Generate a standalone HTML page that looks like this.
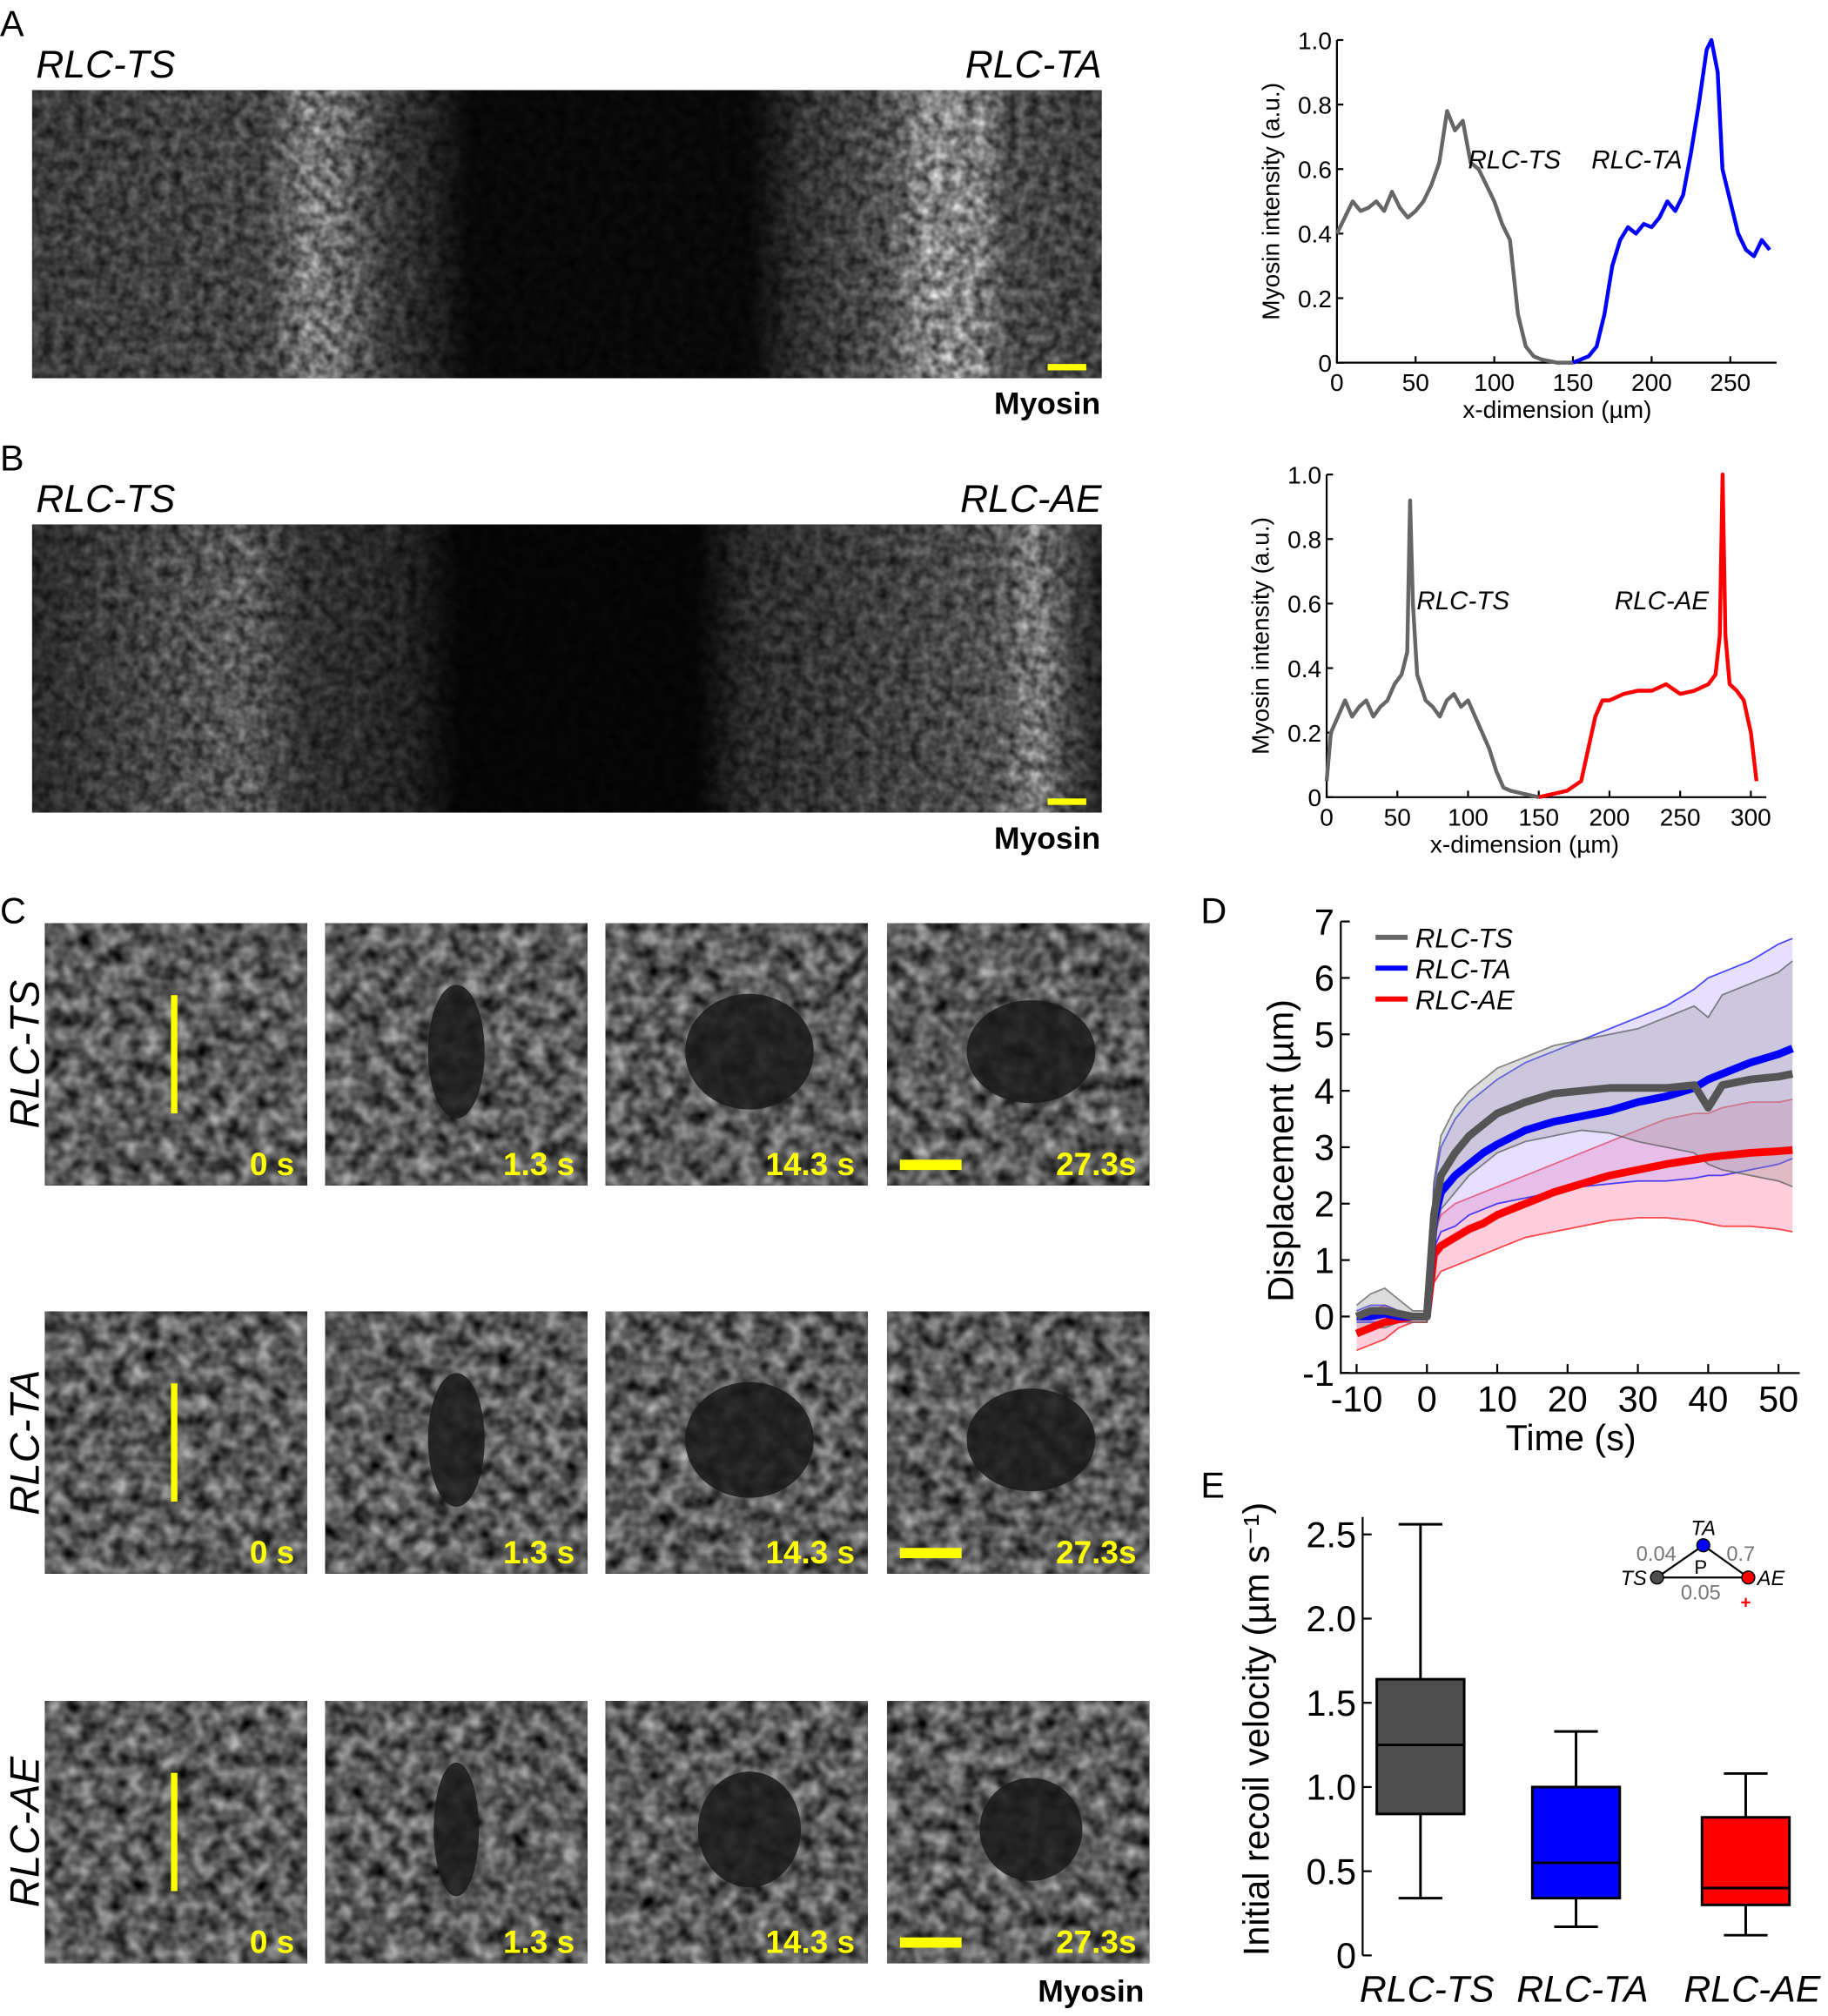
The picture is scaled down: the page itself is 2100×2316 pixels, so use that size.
<!DOCTYPE html>
<html><head><meta charset="utf-8"><style>
html,body{margin:0;padding:0;background:#fff;}
svg{display:block;font-family:"Liberation Sans",Arial,sans-serif;}
</style></head><body>
<svg id="fig" width="2100" height="2316" viewBox="0 0 1422 1568" xmlns="http://www.w3.org/2000/svg">
<defs>
<linearGradient id="gA" x1="0" x2="1" y1="0" y2="0">
<stop offset="0" stop-color="#3a3a3a"/><stop offset="0.22" stop-color="#454545"/><stop offset="0.26" stop-color="#7a7a7a"/><stop offset="0.29" stop-color="#666"/><stop offset="0.33" stop-color="#3a3a3a"/><stop offset="0.38" stop-color="#1e1e1e"/><stop offset="0.41" stop-color="#080808"/><stop offset="0.67" stop-color="#080808"/><stop offset="0.72" stop-color="#303030"/><stop offset="0.8" stop-color="#505050"/><stop offset="0.84" stop-color="#8a8a8a"/><stop offset="0.89" stop-color="#7a7a7a"/><stop offset="0.91" stop-color="#4a4a4a"/><stop offset="1" stop-color="#3e3e3e"/>
</linearGradient>
<linearGradient id="gB" x1="0" x2="1" y1="0" y2="0">
<stop offset="0" stop-color="#2a2a2a"/><stop offset="0.16" stop-color="#505050"/><stop offset="0.2" stop-color="#5a5a5a"/><stop offset="0.25" stop-color="#333"/><stop offset="0.35" stop-color="#222"/><stop offset="0.4" stop-color="#050505"/><stop offset="0.62" stop-color="#050505"/><stop offset="0.67" stop-color="#2a2a2a"/><stop offset="0.9" stop-color="#505050"/><stop offset="0.94" stop-color="#7a7a7a"/><stop offset="0.97" stop-color="#444"/><stop offset="1" stop-color="#222"/>
</linearGradient>
<filter id="noise" x="0" y="0" width="1" height="1" color-interpolation-filters="sRGB">
<feTurbulence type="fractalNoise" baseFrequency="0.12" numOctaves="2" seed="3" result="t"/>
<feColorMatrix in="t" type="matrix" values="1 0 0 0 0  1 0 0 0 0  1 0 0 0 0  0 0 0 0 1" result="g"/>
<feComposite in="SourceGraphic" in2="g" operator="arithmetic" k1="1.8" k2="0.1" k3="0" k4="0"/>
</filter>
<filter id="noiseC" x="0" y="0" width="1" height="1" color-interpolation-filters="sRGB">
<feTurbulence type="fractalNoise" baseFrequency="0.08" numOctaves="2" seed="7" result="t"/>
<feColorMatrix in="t" type="matrix" values="1 0 0 0 0  1 0 0 0 0  1 0 0 0 0  0 0 0 0 1" result="g"/>
<feComposite in="SourceGraphic" in2="g" operator="arithmetic" k1="2.6" k2="-0.3" k3="0" k4="0"/>
</filter>
</defs>
<g id="root"></g>
</svg>
<script>
// ---------- data ----------
var profAx_gray = [0,5,10,15,20,25,30,35,40,45,50,55,60,65,70,75,80,85,90,95,100,105,110,115,120,125,130,140,150];
var profAy_gray = [0.4,0.45,0.5,0.47,0.48,0.5,0.47,0.53,0.48,0.45,0.47,0.5,0.55,0.62,0.78,0.72,0.75,0.62,0.6,0.55,0.5,0.43,0.38,0.15,0.05,0.02,0.01,0,0];
var profAx_blue = [150,155,160,165,170,175,180,185,190,195,200,205,210,215,220,225,230,235,238,242,245,250,255,260,265,270,275];
var profAy_blue = [0,0.01,0.02,0.05,0.15,0.3,0.38,0.42,0.4,0.43,0.42,0.45,0.5,0.47,0.52,0.65,0.8,0.97,1.0,0.9,0.6,0.5,0.4,0.35,0.33,0.38,0.35];
var profBx_gray = [0,3,8,13,18,23,28,33,38,43,48,53,57,59,61,64,70,75,80,85,90,95,100,105,110,115,120,125,130,140,150];
var profBy_gray = [0.05,0.2,0.25,0.3,0.25,0.28,0.3,0.25,0.28,0.3,0.35,0.38,0.45,0.92,0.6,0.38,0.3,0.28,0.25,0.3,0.32,0.28,0.3,0.25,0.2,0.15,0.08,0.03,0.02,0.01,0];
var profBx_red = [150,160,170,180,185,190,195,200,210,220,230,240,250,260,270,275,278,280,282,285,290,295,300,304];
var profBy_red = [0,0.01,0.02,0.05,0.15,0.25,0.3,0.3,0.32,0.33,0.33,0.35,0.32,0.33,0.35,0.38,0.5,1.0,0.5,0.35,0.33,0.3,0.2,0.05];
var dispT = [-10,-8,-6,-4,-2,0,1,2,4,6,8,10,14,18,22,26,30,34,38,40,42,46,50,52];
var ts_mean = [0,0.1,0.1,0.05,0,0,1.8,2.5,2.9,3.2,3.4,3.6,3.8,3.95,4.0,4.05,4.05,4.05,4.1,3.7,4.1,4.2,4.25,4.3];
var ts_up   = [0.2,0.4,0.5,0.3,0.1,0.1,2.4,3.2,3.7,4.0,4.2,4.4,4.6,4.8,4.9,5.0,5.1,5.3,5.5,5.3,5.7,5.9,6.1,6.3];
var ts_lo   = [-0.3,-0.2,-0.2,-0.1,-0.1,-0.1,1.3,1.9,2.2,2.5,2.7,2.9,3.1,3.2,3.3,3.25,3.1,3.0,2.9,2.7,2.6,2.5,2.4,2.3];
var ta_mean = [0,0,0.05,0,0,0,1.7,2.2,2.5,2.7,2.9,3.05,3.3,3.45,3.55,3.65,3.8,3.9,4.05,4.2,4.3,4.5,4.65,4.75];
var ta_up   = [0.1,0.2,0.2,0.1,0.05,0.05,2.3,3.0,3.5,3.8,4.0,4.2,4.5,4.7,4.9,5.1,5.3,5.5,5.8,6.0,6.1,6.3,6.6,6.7];
var ta_lo   = [-0.1,-0.1,-0.1,-0.1,-0.05,-0.05,1.2,1.5,1.6,1.8,1.9,2.0,2.1,2.2,2.3,2.35,2.4,2.4,2.45,2.5,2.5,2.6,2.7,2.8];
var ae_mean = [-0.3,-0.2,-0.1,-0.05,0,0,1.1,1.25,1.4,1.55,1.65,1.8,2.0,2.2,2.35,2.5,2.6,2.7,2.78,2.82,2.85,2.9,2.93,2.95];
var ae_up   = [0.0,0.1,0.2,0.1,0.05,0.05,1.5,1.8,2.0,2.1,2.2,2.3,2.5,2.7,2.9,3.1,3.3,3.5,3.6,3.6,3.7,3.8,3.8,3.85];
var ae_lo   = [-0.6,-0.5,-0.4,-0.2,-0.1,-0.1,0.6,0.8,0.9,1.0,1.1,1.2,1.4,1.5,1.6,1.7,1.75,1.75,1.7,1.65,1.6,1.6,1.55,1.5];
var boxCats = ["RLC-TS","RLC-TA","RLC-AE"];
var boxMin = [0.34,0.17,0.12];
var boxQ1  = [0.84,0.34,0.30];
var boxMed = [1.25,0.55,0.40];
var boxQ3  = [1.64,1.00,0.82];
var boxMax = [2.56,1.33,1.08];
var boxColors = ["#4d4d4d","#0000ff","#ff0000"];

var NS="http://www.w3.org/2000/svg";
var root=document.getElementById('root');
function mk(tag,attrs,parent){var e=document.createElementNS(NS,tag);for(var k in attrs)e.setAttribute(k,attrs[k]);(parent||root).appendChild(e);return e;}
function txt(x,y,s,size,extra){var a={x:x,y:y,'font-size':size};for(var k in extra)a[k]=extra[k];var t=mk('text',a);t.textContent=s;return t;}

// ---------- panel labels ----------
var lab=[["A",0,28],["B",0,366],["C",0,718],["D",934,718],["E",934,1165]];
lab.forEach(function(l){var t=txt(l[1],l[2],l[0],28);

});

// ---------- micrographs A/B ----------
function micro(y,grad,lt,rt,sbY,name){
  var r=mk('rect',{x:25,y:y,width:832,height:224,fill:'url(#'+grad+')',filter:'url(#noise)'});
  
  
  var a=txt(28,y-10,lt,30,{'font-style':'italic'});
  
  
  var b=txt(857,y-10,rt,30,{'font-style':'italic','text-anchor':'end'});
  
  
  var s=mk('rect',{x:815,y:sbY,width:30,height:5,fill:'#ffff00'});
  
  
  var m=txt(856,y+252,'Myosin',24,{'font-weight':'bold','text-anchor':'end'});
  
  
}
micro(70,'gA','RLC-TS','RLC-TA',283,'panel-a');
micro(408,'gB','RLC-TS','RLC-AE',621,'panel-b');

// ---------- profile charts ----------
function profile(cfg){
  var X=function(v){return cfg.x0+(v-0)*cfg.sx;};
  var Y=function(v){return cfg.y0-(v)*cfg.sy;};
  var ax=mk('path',{d:'M'+cfg.x0+','+Y(1)+' V'+cfg.y0+' H'+cfg.xEnd,stroke:'#000',fill:'none','stroke-width':1.5});
  
  
  [0,0.2,0.4,0.6,0.8,1.0].forEach(function(v){
    mk('line',{x1:cfg.x0,x2:cfg.x0+5,y1:Y(v),y2:Y(v),stroke:'#000','stroke-width':1.5});
    var t=txt(cfg.x0-4,Y(v)+7,v===0?'0':v.toFixed(1),19,{'text-anchor':'end'});
    
    
  });
  cfg.xt.forEach(function(v){
    mk('line',{x1:X(v),x2:X(v),y1:cfg.y0,y2:cfg.y0-5,stroke:'#000','stroke-width':1.5});
    var t=txt(X(v),cfg.y0+22,String(v),19,{'text-anchor':'middle'});
    
    
  });
  var yl=txt(0,0,'Myosin intensity (a.u.)',19,{'text-anchor':'middle',transform:'translate('+(cfg.x0-45)+','+Y(0.5)+') rotate(-90)'});
  
  
  var xl=txt(cfg.x0+cfg.sx*140,cfg.y0+43,'x-dimension (µm)',19,{'text-anchor':'middle'});
  
  
  cfg.series.forEach(function(s){
    var d=s.x.map(function(v,i){return (i?'L':'M')+X(v).toFixed(1)+','+Y(s.y[i]).toFixed(1);}).join(' ');
    var p=mk('path',{d:d,stroke:s.c,fill:'none','stroke-width':3,'stroke-linejoin':'round'});
    
    
  });
  cfg.labels.forEach(function(l){
    var t=txt(l[0],l[1],l[2],20,{'font-style':'italic'});
    
    
  });
}
profile({name:'chart-a',x0:1040,y0:282,sx:1.224,sy:251,xEnd:1382,xt:[0,50,100,150,200,250],
  series:[{x:profAx_gray,y:profAy_gray,c:'#666',n:'rlc-ts-profile-a'},{x:profAx_blue,y:profAy_blue,c:'#0000ff',n:'rlc-ta-profile'}],
  labels:[[1142,131,'RLC-TS'],[1238,131,'RLC-TA']]});
profile({name:'chart-b',x0:1032,y0:620,sx:1.1,sy:251,xEnd:1374,xt:[0,50,100,150,200,250,300],
  series:[{x:profBx_gray,y:profBy_gray,c:'#666',n:'rlc-ts-profile-b'},{x:profBx_red,y:profBy_red,c:'#ff0000',n:'rlc-ae-profile'}],
  labels:[[1102,474,'RLC-TS'],[1256,474,'RLC-AE']]});

// ---------- panel C grid ----------
var colsX=[35,253,471,690], rowsY=[718,1020,1323], rowNames=['RLC-TS','RLC-TA','RLC-AE'];
var times=['0 s','1.3 s','14.3 s','27.3s'];
var holeW=[0,22,50,50], holeH=[0,52,45,40];
rowsY.forEach(function(ry,ri){
  var rl=txt(0,0,rowNames[ri],32,{'font-style':'italic','text-anchor':'middle',transform:'translate(30,'+(ry+102)+') rotate(-90)'});
  
  
  colsX.forEach(function(cx,ci){
    var r=mk('rect',{x:cx,y:ry,width:204,height:204,fill:'#5a5a5a',filter:'url(#noiseC)'});
    
    
    if(ci>0){var e=mk('ellipse',{cx:cx+(ci===1?102:112),cy:ry+100,rx:holeW[ci]*(ri===2?0.8:1),ry:holeH[ci],fill:'#1a1a1a',opacity:0.85});
      
      }
    if(ci===0){var l=mk('rect',{x:cx+98,y:ry+56,width:5,height:92,fill:'#ffff00'});
      
      }
    if(ci===3){var sb=mk('rect',{x:cx+10,y:ry+184,width:48,height:8,fill:'#ffff00'});
      
      }
    var t=txt(cx+194,ry+196,times[ci],25,{'font-weight':'bold','text-anchor':'end',fill:'#ffff00'});
    
    
  });
});
var cm=txt(890,1557,'Myosin',24,{'font-weight':'bold','text-anchor':'end'});



// ---------- panel D ----------
var DX=function(t){return 1110+t*5.47;};
var DY=function(v){return 1024-v*43.9;};
var dAx=mk('path',{d:'M1043,'+DY(7)+' V1068 H1400',stroke:'#000',fill:'none','stroke-width':1.5});


[-1,0,1,2,3,4,5,6,7].forEach(function(v){
  mk('line',{x1:1043,x2:1050,y1:DY(v),y2:DY(v),stroke:'#000','stroke-width':1.5});
  var t=txt(1038,DY(v)+10,String(v),28,{'text-anchor':'end'});
  
  
});
[-10,0,10,20,30,40,50].forEach(function(v){
  mk('line',{x1:DX(v),x2:DX(v),y1:1068,y2:1061,stroke:'#000','stroke-width':1.5});
  var t=txt(DX(v),1098,String(v),28,{'text-anchor':'middle'});
  
  
});
var dyl=txt(0,0,'Displacement (µm)',28,{'text-anchor':'middle',transform:'translate(1006,895) rotate(-90)'});


var dxl=txt(1222,1128,'Time (s)',28,{'text-anchor':'middle'});


function linePath(ys){return dispT.map(function(t,i){return (i?'L':'M')+DX(t).toFixed(1)+','+DY(ys[i]).toFixed(1);}).join(' ');}
var dser=[[ae_mean,ae_up,ae_lo,'#ff0000','#ff6f9a','rlc-ae'],[ta_mean,ta_up,ta_lo,'#0000ff','#b6a4ff','rlc-ta'],[ts_mean,ts_up,ts_lo,'#555','#9a9a9a','rlc-ts']];
dser.forEach(function(s){
  var band=linePath(s[1])+' '+dispT.slice().reverse().map(function(t,i){var j=dispT.length-1-i;return 'L'+DX(t).toFixed(1)+','+DY(s[2][j]).toFixed(1);}).join(' ')+' Z';
  var b=mk('path',{d:band,fill:s[4],'fill-opacity':0.35,stroke:'none'});
  
  
  var u=mk('path',{d:linePath(s[1]),fill:'none',stroke:s[3],'stroke-width':1.2,opacity:0.7});
  
  
  var l=mk('path',{d:linePath(s[2]),fill:'none',stroke:s[3],'stroke-width':1.2,opacity:0.7});
  
  
});
dser.forEach(function(s){
  var m=mk('path',{d:linePath(s[0]),fill:'none',stroke:s[3],'stroke-width':6,'stroke-linejoin':'round'});
  
  
});
[['RLC-TS','#666',729],['RLC-TA','#0000ff',753],['RLC-AE','#ff0000',777]].forEach(function(l){
  var g=mk('line',{x1:1070,x2:1095,y1:l[2],y2:l[2],stroke:l[1],'stroke-width':4});
  
  
  var t=txt(1101,l[2]+8,l[0],21,{'font-style':'italic'});
  
  
});

// ---------- panel E ----------
var EX=[1105,1226,1358];
var EY=function(v){return 1521-v*131;};
var eAx=mk('path',{d:'M1060,1180 V1521',stroke:'#000',fill:'none','stroke-width':1.5});


[0,0.5,1.0,1.5,2.0,2.5].forEach(function(v){
  mk('line',{x1:1060,x2:1067,y1:EY(v),y2:EY(v),stroke:'#000','stroke-width':1.5});
  var t=txt(1055,EY(v)+10,v===0?'0':v.toFixed(1),28,{'text-anchor':'end'});
  
  
});
var eyl=txt(0,0,'Initial recoil velocity (µm s⁻¹)',28,{'text-anchor':'middle',transform:'translate(987,1345) rotate(-90)'});


boxCats.forEach(function(c,i){
  var x=EX[i],w=34;
  var wh=mk('path',{d:'M'+x+','+EY(boxMin[i])+' V'+EY(boxMax[i])+' M'+(x-w/2)+','+EY(boxMin[i])+' h'+w+' M'+(x-w/2)+','+EY(boxMax[i])+' h'+w,stroke:'#000','stroke-width':2,fill:'none'});
  
  
  var b=mk('rect',{x:x-34,y:EY(boxQ3[i]),width:68,height:EY(boxQ1[i])-EY(boxQ3[i]),fill:boxColors[i],stroke:'#000','stroke-width':2});
  
  
  var m=mk('line',{x1:x-34,x2:x+34,y1:EY(boxMed[i]),y2:EY(boxMed[i]),stroke:'#000','stroke-width':2});
  
  
  var t=txt(x+5,1557,c,29,{'font-style':'italic','text-anchor':'middle'});
  
  
});
// inset p-value triangle
var tri=mk('path',{d:'M1289,1227 L1325,1202 L1360,1227 Z',fill:'none',stroke:'#000','stroke-width':1.5});


[[1289,1227,'#4d4d4d'],[1325,1202,'#0000ff'],[1360,1227,'#ff0000']].forEach(function(p){
  var c=mk('circle',{cx:p[0],cy:p[1],r:5,fill:p[2],stroke:'#000','stroke-width':1});
  
  
});
[[1325,1194,'TA','#000','middle',16,true],[1281,1233,'TS','#000','end',16,true],[1367,1233,'AE','#000','start',16,true],
 [1304,1214,'0.04','#777','end',16,false],[1343,1214,'0.7','#777','start',16,false],[1323,1244,'0.05','#777','middle',16,false],[1323,1224,'P','#000','middle',15,false]].forEach(function(a){
  var t=txt(a[0],a[1],a[2],a[5],{fill:a[3],'text-anchor':a[4],'font-style':a[6]?'italic':'normal'});
  
  
});
var pl=txt(1358,1251,'+',14,{fill:'#ff0000','text-anchor':'middle','font-weight':'bold'});


</script>
</body></html>
